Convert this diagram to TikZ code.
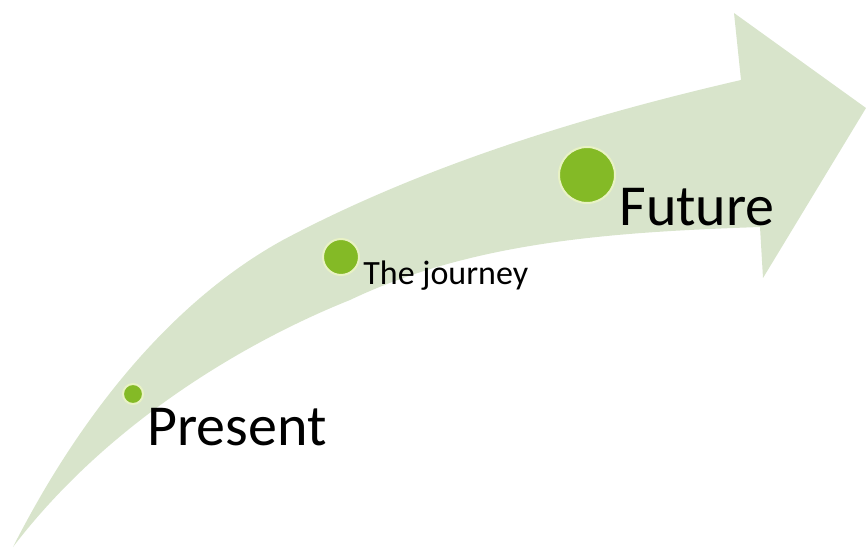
\documentclass[tikz,border=0pt]{standalone}
\usepackage{fontspec}
\setmainfont{Carlito}
\usetikzlibrary{positioning}
\definecolor{bandgreen}{RGB}{216,228,203}
\definecolor{dotgreen}{RGB}{132,186,38}
\definecolor{dotring}{RGB}{232,242,196}

\begin{document}
\begin{tikzpicture}[
    x=0.5pt, y=-0.5pt,
    stop dot/.style={circle, fill=dotgreen, draw=dotring, line width=1pt, inner sep=0pt},
    big label/.style={anchor=base west, inner sep=0pt, font=\fontsize{29}{29}\selectfont},
    small label/.style={anchor=base west, inner sep=0pt, font=\fontsize{17}{17}\selectfont}
]
    \useasboundingbox (0,0) rectangle (866,550);

    % the curved arrow
    \fill[bandgreen] (13,547)
        .. controls (75,425) and (165,305) .. (283,240)
        .. controls (424,165) and (585,116) .. (741,80)
        -- (734,13) -- (866,108) -- (763,278) -- (760,227)
        .. controls (620,232) and (476,240) .. (350,300)
        .. controls (250,340) and (110,420) .. (13,547) -- cycle;

    % stops along the way
    \node[stop dot, minimum size=10pt] (present) at (133,394) {};
    \node[stop dot, minimum size=18pt] (journey) at (341,257) {};
    \node[stop dot, minimum size=28pt] (future) at (587,175) {};

    \node[big label] (present label) at (147,445) {Present};
    \node[small label] (journey label) at (363,285) {The journey};
    \node[big label] (future label) at (619,226) {Future};
\end{tikzpicture}
\end{document}
